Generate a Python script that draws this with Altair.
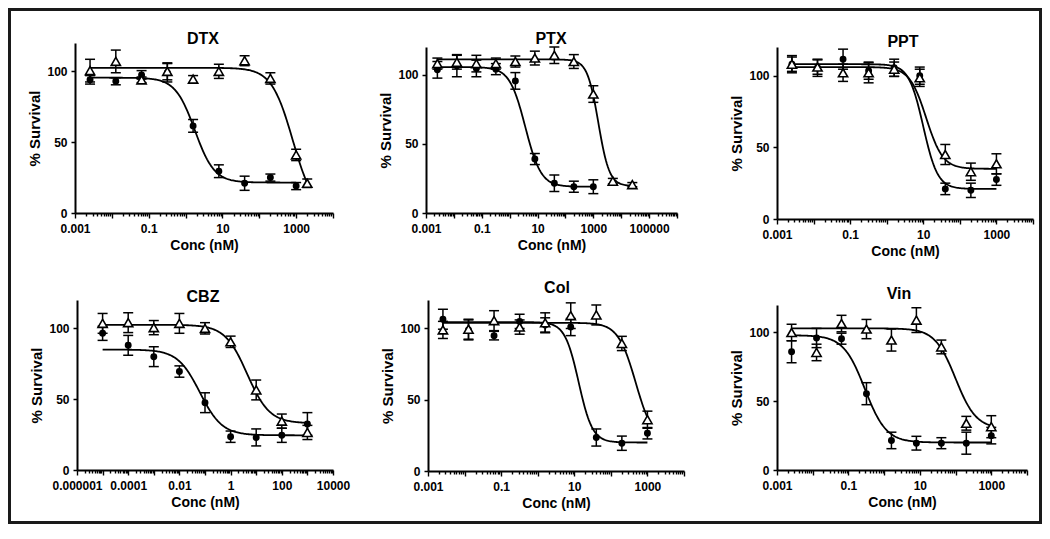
import altair as alt
import numpy as np
import pandas as pd

FONT = "Liberation Sans"

# ---------------- data ----------------
CONC_9 = [0.00256, 0.0128, 0.064, 0.32, 1.6, 8, 40, 200, 1000]
CONC_CBZ = [1e-5, 1e-4, 1e-3, 1e-2, 1e-1, 1, 10, 100, 1000]

# fit parameters: top, bottom, log10(IC50), hill slope
DTX_CIRCLE_X = CONC_9
DTX_CIRCLE_Y = [94, 93, 97.5, 99, 61.5, 29.5, 21, 25, 19]
DTX_CIRCLE_ERR = [3, 2.5, 3, 6.5, 4.5, 4.5, 5, 2.5, 2.5]
DTX_TRI_X = CONC_9 + [2000]
DTX_TRI_Y = [100.5, 107, 94, 100, 94.5, 100, 107.5, 95, 41, 21]
DTX_TRI_ERR = [8, 8, 2, 6, 2.5, 5, 3.5, 4, 4, 3]
DTX_CIRCLE_FIT = [95.5, 21.5, 0.25, 1.64]
DTX_TRI_FIT = [102.5, 0.0, 2.91, 1.5]

PTX_CIRCLE_X = CONC_9
PTX_CIRCLE_Y = [103.5, 106.5, 104.5, 104, 95.5, 39, 21.5, 19, 19]
PTX_CIRCLE_ERR = [6, 8, 6, 4, 6, 4, 6, 4, 5]
PTX_TRI_X = CONC_9 + [5000, 25000]
PTX_TRI_Y = [108, 109, 108, 108, 109.5, 112, 114, 109.5, 86, 23, 20.5]
PTX_TRI_ERR = [4, 5, 6, 4, 4, 5, 6, 5, 6, 2, 1.5]
PTX_CIRCLE_FIT = [105.5, 19.0, 0.56, 1.54]
PTX_TRI_FIT = [111.0, 19.5, 3.18, 2.2]

PPT_CIRCLE_X = CONC_9
PPT_CIRCLE_Y = [108, 105.5, 111.5, 103.5, 105.5, 100, 21, 20, 27.5]
PPT_CIRCLE_ERR = [6, 6, 7, 6, 6, 6, 4, 5, 4]
PPT_TRI_X = CONC_9
PPT_TRI_Y = [108, 106, 102, 102, 104.5, 98.5, 45, 33, 38.5]
PPT_TRI_ERR = [5, 5, 6, 7, 5, 6, 7, 6, 7]
PPT_CIRCLE_FIT = [108.0, 21.0, 1.0, 2.2]
PPT_TRI_FIT = [106.0, 35.0, 1.08, 1.9]

CBZ_CIRCLE_X = CONC_CBZ
CBZ_CIRCLE_Y = [96.5, 88, 80, 69.5, 47.5, 23.5, 23, 24.5, 32.5]
CBZ_CIRCLE_ERR = [5, 7, 7, 4, 7, 4, 6, 5, 8]
CBZ_TRI_X = CONC_CBZ
CBZ_TRI_Y = [103.5, 104, 100.5, 103.5, 100, 90.5, 56.5, 34.5, 26.5]
CBZ_TRI_ERR = [7, 7, 5, 7, 4, 4, 7, 5, 5]
CBZ_CIRCLE_FIT = [85.0, 24.5, -1.2, 1.0]
CBZ_TRI_FIT = [102.5, 33.0, 0.65, 1.0]

COL_CIRCLE_X = CONC_9
COL_CIRCLE_Y = [106.5, 99, 95, 105, 102.5, 101, 23.5, 19.5, 26.5]
COL_CIRCLE_ERR = [7, 7, 3, 5, 5, 6, 6, 5, 4]
COL_TRI_X = CONC_9
COL_TRI_Y = [99, 99.5, 105.5, 101, 104, 109, 109.5, 89.5, 36]
COL_TRI_ERR = [6, 7, 7, 5, 7, 9, 7, 5, 6]
COL_CIRCLE_FIT = [104.5, 20.0, 1.12, 2.3]
COL_TRI_FIT = [104.0, 20.0, 2.68, 1.8]

VIN_CIRCLE_X = CONC_9
VIN_CIRCLE_Y = [86, 96, 95.5, 55.5, 21.5, 19.5, 19.5, 19.5, 25]
VIN_CIRCLE_ERR = [8, 7, 4, 8, 6, 5, 4, 8, 6]
VIN_TRI_X = CONC_9
VIN_TRI_Y = [100, 85.5, 106.5, 102.5, 94.5, 109, 89.5, 34, 31.5]
VIN_TRI_ERR = [6, 6, 6, 7, 8, 9, 5, 5, 8]
VIN_CIRCLE_FIT = [98.0, 20.0, -0.54, 1.45]
VIN_TRI_FIT = [103.0, 30.0, 2.0, 1.5]

TITLES = ["DTX", "PTX", "PPT", "CBZ", "Col", "Vin"]
DECADES = [(-3, 4), (-3, 6), (-3, 4), (-6, 4), (-3, 4), (-3, 4)]
Y_TICKS = [0, 50, 100]
X_TITLE = "Conc (nM)"
Y_TITLE = "% Survival"

# ---------------- layout (pixels) ----------------
GW, GH = 258, 176
# x0, plot width, plot top, plot bottom, title centre x, title baseline y
LAYOUT = [
    (0, 258, 0, 170, 128, 1),
    (0, 251, 4, 170, 125, 1),
    (0, 256, 4, 176, 126, 4),
    (2, 256, 5, 175, 128, 7),
    (2, 256, 5, 176, 131, -2),
    (0, 250, 10, 175, 122, 4),
]


def fit_curve(xs, fit, n=200):
    top, bottom, logc, hill = fit
    lx = np.linspace(np.log10(min(xs)), np.log10(max(xs)), n)
    y = bottom + (top - bottom) / (1 + 10 ** ((lx - logc) * hill))
    return pd.DataFrame({"x": 10 ** lx, "y": y})


def points(xs, ys, es, series):
    return pd.DataFrame({
        "x": xs, "y": ys,
        "lo": [a - b for a, b in zip(ys, es)],
        "hi": [a + b for a, b in zip(ys, es)],
        "series": series,
    })


def panel(i, cx, cy, ce, tx, ty, te, cfit, tfit, border=False):
    x0, w, top, bottom, tcx, tby = LAYOUT[i]
    lo, hi = DECADES[i]
    xoff = bottom - GH
    majors = [10.0 ** k for k in range(lo, hi + 1)]
    minors = [m * 10.0 ** k for k in range(lo, hi) for m in range(2, 10)]
    xs = alt.Scale(type="log", domain=[10.0 ** lo, 10.0 ** hi], nice=False, range=[x0, x0 + w])
    ys = alt.Scale(domain=[0, 120], nice=False, range=[bottom, top])

    is_major = "abs(log(datum.value)/LN10 - round(log(datum.value)/LN10)) < 0.001"
    label_expr = (
        f"{is_major} && (round(log(datum.value)/LN10) + {-lo}) % 2 == 0 ? "
        "(datum.value < 1 ? format(datum.value, '.6~f') : format(datum.value, 'd')) : ''"
    )
    x_axis = alt.Axis(
        values=majors + minors, labelExpr=label_expr, orient="bottom", offset=xoff,
        title=X_TITLE, titleFont=FONT, titleFontSize=14, titleFontWeight="bold",
        titleColor="black", titlePadding=4,
        labelFont=FONT, labelFontSize=12, labelFontWeight="bold", labelColor="black",
        labelPadding=5, labelFlush=False, labelOverlap=False, labelBound=False,
        tickSize={"condition": {"test": is_major, "value": 5}, "value": 3},
        tickWidth=1.4, tickColor="black",
        domain=True, domainColor="black", domainWidth=2, grid=False,
    )
    y_axis = alt.Axis(
        values=Y_TICKS, title=Y_TITLE, offset=-x0, orient="left",
        titleFont=FONT, titleFontSize=15, titleFontWeight="bold", titleColor="black",
        titlePadding=4,
        labelFont=FONT, labelFontSize=12, labelFontWeight="bold", labelColor="black",
        labelPadding=4, tickSize=4, tickWidth=1.5, tickColor="black",
        domain=True, domainColor="black", domainWidth=2, grid=False,
    )

    def X(f="x"):
        return alt.X(f"{f}:Q", scale=xs, axis=x_axis)

    def Y(f="y"):
        return alt.Y(f"{f}:Q", scale=ys, axis=y_axis)

    curves = pd.concat([
        fit_curve(cx, cfit).assign(series="circle"),
        fit_curve(tx, tfit).assign(series="triangle"),
    ])
    pts = pd.concat([points(cx, cy, ce, "circle"), points(tx, ty, te, "triangle")])
    circ = pts[pts.series == "circle"]
    tri = pts[pts.series == "triangle"]

    line = alt.Chart(curves).mark_line(color="black", strokeWidth=1.8).encode(
        x=X(), y=Y(), detail="series:N",
    )
    rules = alt.Chart(pts).mark_rule(color="black", strokeWidth=1.5).encode(
        x=X(), y=Y("lo"), y2="hi:Q",
    )
    cap_lo = alt.Chart(pts).mark_tick(color="black", orient="horizontal", size=10, thickness=1.5, opacity=1).encode(
        x=X(), y=Y("lo"),
    )
    cap_hi = alt.Chart(pts).mark_tick(color="black", orient="horizontal", size=10, thickness=1.5, opacity=1).encode(
        x=X(), y=Y("hi"),
    )
    circles = alt.Chart(circ).mark_point(shape="circle", filled=True, color="black", size=48, opacity=1).encode(
        x=X(), y=Y(),
    )
    tris = alt.Chart(tri).mark_point(
        shape="triangle-up", filled=True, fill="white", stroke="black",
        strokeWidth=1.6, size=85, opacity=1,
    ).encode(x=X(), y=Y())
    title = alt.Chart(pd.DataFrame({"t": [TITLES[i]]})).mark_text(
        font=FONT, fontSize=16, fontWeight="bold", color="black",
        align="center", baseline="alphabetic",
    ).encode(text="t:N", x=alt.value(tcx), y=alt.value(tby))
    layers = [line, rules, cap_lo, cap_hi, circles, tris, title]
    if border:
        frame = alt.Chart(pd.DataFrame({"k": [0]})).mark_rect(
            filled=False, stroke="#1a1a1a", strokeWidth=3
        ).encode(
            x=alt.value(-65.5), x2=alt.value(965.5),
            y=alt.value(-33.5), y2=alt.value(479.5),
        )
        layers.append(frame)
    return alt.layer(*layers).properties(width=GW, height=GH)


panels = [
    panel(0, DTX_CIRCLE_X, DTX_CIRCLE_Y, DTX_CIRCLE_ERR, DTX_TRI_X, DTX_TRI_Y, DTX_TRI_ERR,
          DTX_CIRCLE_FIT, DTX_TRI_FIT, border=True),
    panel(1, PTX_CIRCLE_X, PTX_CIRCLE_Y, PTX_CIRCLE_ERR, PTX_TRI_X, PTX_TRI_Y, PTX_TRI_ERR,
          PTX_CIRCLE_FIT, PTX_TRI_FIT),
    panel(2, PPT_CIRCLE_X, PPT_CIRCLE_Y, PPT_CIRCLE_ERR, PPT_TRI_X, PPT_TRI_Y, PPT_TRI_ERR,
          PPT_CIRCLE_FIT, PPT_TRI_FIT),
    panel(3, CBZ_CIRCLE_X, CBZ_CIRCLE_Y, CBZ_CIRCLE_ERR, CBZ_TRI_X, CBZ_TRI_Y, CBZ_TRI_ERR,
          CBZ_CIRCLE_FIT, CBZ_TRI_FIT),
    panel(4, COL_CIRCLE_X, COL_CIRCLE_Y, COL_CIRCLE_ERR, COL_TRI_X, COL_TRI_Y, COL_TRI_ERR,
          COL_CIRCLE_FIT, COL_TRI_FIT),
    panel(5, VIN_CIRCLE_X, VIN_CIRCLE_Y, VIN_CIRCLE_ERR, VIN_TRI_X, VIN_TRI_Y, VIN_TRI_ERR,
          VIN_CIRCLE_FIT, VIN_TRI_FIT),
]

chart = alt.concat(
    *panels, columns=3, spacing={"row": 76, "column": 93}, bounds="flush", align="all"
).properties(padding=0, background="white").configure_view(stroke=None)

chart.save("out.html", embed_options={"renderer": "svg", "actions": False})
